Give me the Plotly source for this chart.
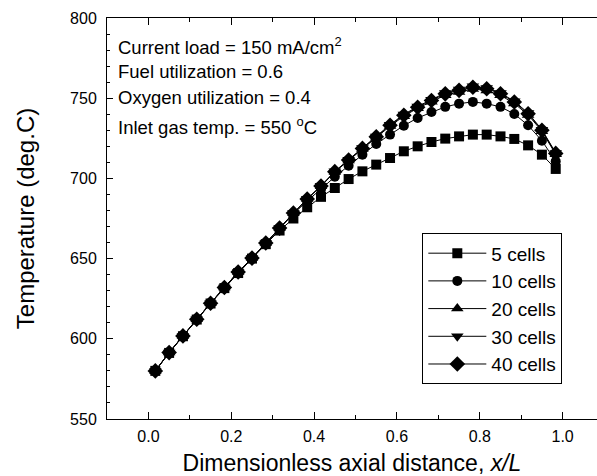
import plotly.graph_objects as go

x_pos = [(i + 0.5) / 30 for i in range(30)]

t_5 = [580, 591.2, 601.6, 612, 622, 631.6, 641, 650, 659, 667.5,
       675, 682, 688.5, 694, 699.6, 704.4, 708.6, 712.7, 716.9, 720,
       722.7, 724.8, 726.2, 727.3, 727.3, 726.2, 724.6, 720.6, 714.8, 705.9]
t_10 = [580, 591.4, 601.8, 612.2, 622.2, 632, 641.6, 650.3, 659.7, 669,
        677.8, 686, 693.3, 701, 707.9, 714.8, 721.5, 727.3, 732.9, 737.7,
        741.4, 744.6, 746.6, 747.7, 746.6, 744.6, 740.2, 733.1, 723.5, 710.6]
t_20 = [580, 591.4, 601.8, 612.2, 622.2, 632, 641.6, 650.3, 659.7, 669,
        678.3, 687.1, 695.1, 704, 711.2, 718.4, 725.4, 732.6, 738.8, 743.8,
        747.8, 751.9, 753.9, 755.8, 754.8, 751.8, 746.7, 739.6, 729.4, 715.0]
t_30 = [580, 591.4, 601.8, 612.2, 622.2, 632, 641.6, 650.3, 659.7, 669,
        678.4, 687.3, 695.4, 704.4, 711.7, 719, 726.2, 733.5, 739.8, 744.9,
        749.1, 753.3, 755.4, 757.4, 756.4, 753.3, 748.1, 740.8, 730.4, 715.9]
t_40 = [580, 591.4, 601.8, 612.2, 622.2, 632, 641.6, 650.3, 659.7, 669,
        678.4, 687.2, 695.3, 704.2, 711.5, 718.7, 725.9, 733.1, 739.4, 744.4,
        748.6, 752.7, 754.9, 756.8, 755.9, 752.8, 747.6, 740.3, 730.0, 715.6]

series = [
    ("5 cells", t_5, "square"),
    ("10 cells", t_10, "circle"),
    ("20 cells", t_20, "triangle-up"),
    ("30 cells", t_30, "triangle-down"),
    ("40 cells", t_40, "diamond"),
]

FONT = "Arial, Liberation Sans, sans-serif"

fig = go.Figure()
for name, ys, sym in series:
    size = 10 if sym in ("square", "circle") else 11
    if sym == "diamond":
        size = 12
    fig.add_trace(go.Scatter(
        x=x_pos, y=ys, name=name, mode="lines+markers",
        line=dict(color="black", width=1),
        marker=dict(symbol=sym, size=size, color="black"),
    ))

notes = [
    ("Current load = 150 mA/cm<sup>2</sup>", 46),
    ("Fuel utilization = 0.6", 72),
    ("Oxygen utilization = 0.4", 98),
    ("Inlet gas temp. = 550 <sup>o</sup>C", 126),
]
for txt, ypx in notes:
    fig.add_annotation(
        x=0, xref="paper", xanchor="left", xshift=9,
        y=1 - (ypx - 18.5) / 400.5, yref="paper", yanchor="middle",
        text=txt, showarrow=False, font=dict(size=18.5, color="black", family=FONT),
    )

fig.update_layout(
    width=597, height=476,
    margin=dict(l=107, r=0, t=18, b=57),
    paper_bgcolor="white", plot_bgcolor="white",
    font=dict(family=FONT, color="black", size=16),
    showlegend=True,
    legend=dict(
        x=0.6435, y=0.463, xanchor="left", yanchor="top",
        bordercolor="black", borderwidth=1, bgcolor="white",
        font=dict(size=19, family=FONT), tracegroupgap=0,
        itemwidth=58,
    ),
    xaxis=dict(
        range=[-0.1, 1.083], tickvals=[0, 0.2, 0.4, 0.6, 0.8, 1.0],
        ticktext=["0.0", "0.2", "0.4", "0.6", "0.8", "1.0"],
        ticks="inside", ticklen=7, tickwidth=1, tickcolor="black",
        showline=True, linecolor="black", linewidth=1, mirror="ticks",
        showgrid=False, zeroline=False,
        minor=dict(tickvals=[0.1, 0.3, 0.5, 0.7, 0.9], ticks="inside", ticklen=4, tickcolor="black"),
        title=dict(text="Dimensionless axial distance, <i>x/L</i>", font=dict(size=23, family=FONT), standoff=12),
        tickfont=dict(size=16), ticklabelstandoff=3,
    ),
    yaxis=dict(
        range=[550, 800], dtick=50, tick0=550,
        ticks="inside", ticklen=6, tickwidth=1, tickcolor="black",
        showline=True, linecolor="black", linewidth=1,
        showgrid=False, zeroline=False,
        minor=dict(dtick=10, ticks="inside", ticklen=3, tickcolor="black"),
        title=dict(text="Temperature (deg.C)", font=dict(size=24, family=FONT), standoff=28),
        tickfont=dict(size=16), ticklabelstandoff=6,
    ),
)

fig.write_html("out.html")
